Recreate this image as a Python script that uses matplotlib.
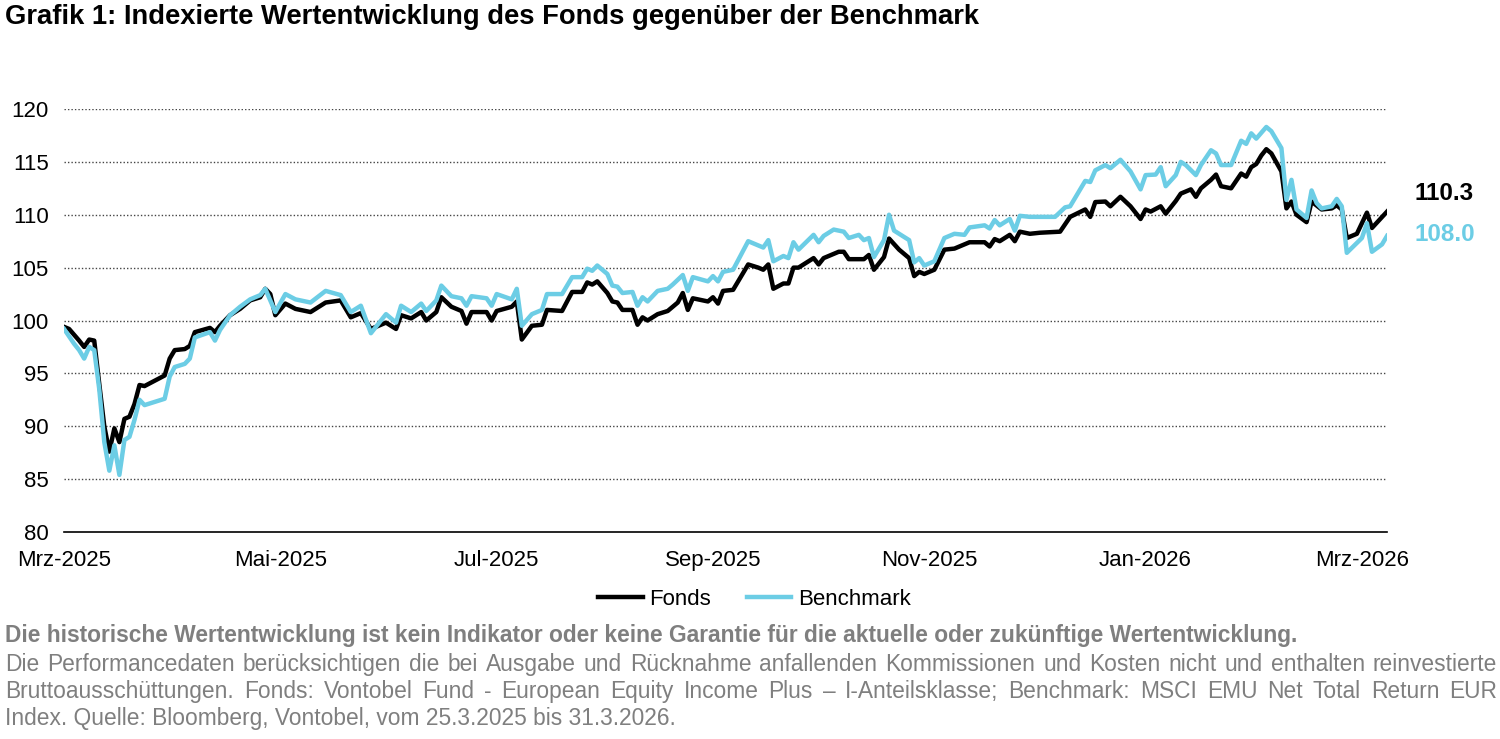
import numpy as np
import pandas as pd
from matplotlib import pyplot as plt

plt.rcParams['font.family'] = ['Liberation Sans', 'DejaVu Sans']

# Handelstage 25.3.2025 - 31.3.2026
feiertage = ['2025-12-25', '2026-01-01']
tage = pd.bdate_range('2025-03-25', '2026-03-31')
tage = tage[~tage.isin(pd.to_datetime(feiertage))]

monate = ['Jan', 'Feb', 'Mrz', 'Apr', 'Mai', 'Jun', 'Jul', 'Aug', 'Sep', 'Okt', 'Nov', 'Dez']
tick_abstand = 43

# Fonds (Handelstag-Nr., Indexwert)
fonds_tag = [0, 1, 3, 4, 5, 6, 7, 8, 9, 10,
             11, 12, 13, 14, 15, 16, 18, 20, 21, 22,
             24, 25, 26, 29, 30, 31, 33, 35, 37, 39,
             40, 41, 42, 44, 46, 49, 52, 55, 57, 59,
             61, 64, 66, 67, 69, 71, 72, 74, 75, 77,
             79, 80, 81, 84, 85, 86, 89, 90, 91, 93,
             95, 96, 99, 101, 103, 104, 105, 106, 108, 109,
             110, 111, 113, 114, 115, 116, 118, 120, 122, 123,
             124, 125, 128, 129, 130, 131, 133, 136, 138, 139,
             140, 141, 143, 144, 145, 146, 149, 150, 151, 154,
             155, 156, 159, 160, 161, 163, 164, 166, 168, 169,
             170, 171, 173, 175, 177, 178, 180, 183, 184, 185,
             186, 188, 189, 190, 192, 194, 198, 199, 200, 203,
             204, 205, 207, 208, 210, 212, 214, 215, 216, 218,
             219, 221, 222, 224, 225, 226, 228, 229, 230, 232,
             234, 235, 236, 237, 238, 239, 240, 242, 243, 244,
             245, 247, 248, 250, 252, 253, 254, 255, 257, 259,
             260, 263]
fonds_wert = [99.4, 99.2, 98.1, 97.5, 98.2, 98.1, 94.0, 90.0, 87.6, 89.8,
              88.5, 90.7, 90.9, 92.1, 93.9, 93.8, 94.3, 94.8, 96.4, 97.2,
              97.3, 97.6, 98.9, 99.3, 98.9, 99.5, 100.5, 101.1, 101.9, 102.2,
              103.0, 102.5, 100.5, 101.6, 101.1, 100.8, 101.7, 101.9, 100.3, 100.7,
              99.2, 99.8, 99.2, 100.5, 100.2, 100.8, 100.0, 100.8, 102.2, 101.3,
              100.9, 99.7, 100.8, 100.8, 100.0, 100.9, 101.3, 101.8, 98.2, 99.5,
              99.6, 101.0, 100.9, 102.7, 102.7, 103.6, 103.4, 103.7, 102.6, 101.8,
              101.7, 101.0, 101.0, 99.6, 100.3, 100.0, 100.6, 100.9, 101.7, 102.6,
              101.0, 102.1, 101.8, 102.2, 101.6, 102.8, 102.9, 105.3, 105.0, 104.8,
              105.3, 103.0, 103.5, 103.5, 105.0, 105.0, 105.9, 105.3, 105.9, 106.5,
              106.5, 105.8, 105.8, 106.2, 104.8, 106.0, 107.75, 106.7, 105.9, 104.2,
              104.6, 104.4, 104.8, 106.7, 106.8, 107.0, 107.4, 107.4, 107.0, 107.7,
              107.5, 108.1, 107.5, 108.4, 108.2, 108.3, 108.4, 109.1, 109.8, 110.5,
              109.8, 111.2, 111.25, 110.8, 111.7, 110.8, 109.6, 110.5, 110.3, 110.8,
              110.1, 111.3, 112.0, 112.4, 111.7, 112.5, 113.3, 113.8, 112.7, 112.5,
              113.9, 113.6, 114.5, 114.8, 115.6, 116.2, 115.8, 114.1, 110.6, 111.25,
              110.0, 109.3, 111.25, 110.5, 110.6, 110.9, 110.5, 107.8, 108.2, 110.2,
              108.75, 110.3]

# Benchmark (Handelstag-Nr., Indexwert)
bench_tag = [0, 2, 3, 4, 5, 6, 7, 8, 9, 10,
             11, 12, 13, 14, 15, 16, 18, 20, 21, 22,
             24, 25, 26, 29, 30, 31, 33, 35, 37, 39,
             40, 42, 44, 46, 49, 52, 55, 57, 59, 61,
             64, 66, 67, 69, 71, 72, 74, 75, 77, 79,
             80, 81, 84, 85, 86, 89, 90, 91, 93, 95,
             96, 99, 101, 103, 104, 105, 106, 108, 109, 110,
             111, 113, 114, 115, 116, 118, 120, 121, 123, 124,
             125, 128, 129, 130, 131, 133, 136, 139, 140, 141,
             143, 144, 145, 146, 149, 150, 151, 153, 155, 156,
             158, 159, 160, 161, 163, 164, 165, 168, 169, 170,
             171, 173, 175, 177, 179, 180, 183, 184, 185, 186,
             188, 189, 190, 192, 197, 199, 200, 203, 204, 205,
             207, 208, 210, 212, 214, 215, 217, 218, 219, 221,
             222, 223, 225, 226, 228, 229, 230, 232, 234, 235,
             236, 237, 239, 240, 242, 243, 244, 245, 247, 248,
             249, 250, 252, 253, 254, 255, 258, 259, 260, 262,
             263]
bench_wert = [99.2, 97.8, 97.2, 96.4, 97.5, 97.2, 93.5, 88.5, 85.8, 88.2,
              85.4, 88.7, 89.0, 90.6, 92.5, 92.0, 92.3, 92.6, 94.7, 95.6,
              95.9, 96.4, 98.4, 98.9, 98.1, 99.1, 100.5, 101.3, 102.0, 102.4,
              103.0, 100.8, 102.5, 102.0, 101.7, 102.8, 102.4, 100.8, 101.4, 98.8,
              100.6, 99.8, 101.4, 100.8, 101.6, 100.9, 101.9, 103.3, 102.3, 102.1,
              101.4, 102.3, 102.1, 101.4, 102.5, 102.0, 103.0, 99.5, 100.6, 101.0,
              102.5, 102.5, 104.1, 104.1, 104.9, 104.7, 105.2, 104.4, 103.3, 103.2,
              102.6, 102.7, 101.4, 102.2, 101.8, 102.8, 103.0, 103.4, 104.3, 102.8,
              104.1, 103.7, 104.2, 103.7, 104.6, 104.8, 107.5, 106.9, 107.6, 105.6,
              106.1, 105.9, 107.4, 106.7, 108.1, 107.4, 108.0, 108.6, 108.4, 107.8,
              108.1, 107.6, 107.8, 106.0, 107.6, 110.0, 108.5, 107.6, 105.5, 105.9,
              105.2, 105.6, 107.8, 108.2, 108.1, 108.8, 109.0, 108.7, 109.5, 109.0,
              109.6, 108.5, 109.9, 109.8, 109.8, 110.7, 110.8, 113.2, 113.1, 114.2,
              114.7, 114.4, 115.2, 114.1, 112.4, 113.75, 113.8, 114.5, 112.7, 113.75,
              115.0, 114.7, 113.75, 114.7, 116.1, 115.8, 114.7, 114.7, 117.0, 116.7,
              117.7, 117.2, 118.3, 117.9, 116.3, 111.4, 113.3, 110.5, 109.7, 112.3,
              111.1, 110.6, 110.8, 111.5, 110.8, 106.4, 107.8, 109.2, 106.5, 107.2,
              108.0]

y_ticks = [80, 85, 90, 95, 100, 105, 110, 115, 120]

titel = 'Grafik 1: Indexierte Wertentwicklung des Fonds gegenüber der Benchmark'
hinweis_fett = ('Die historische Wertentwicklung ist kein Indikator oder keine Garantie '
                'für die aktuelle oder zukünftige Wertentwicklung.')
hinweis_zeilen = [
    'Die Performancedaten berücksichtigen die bei Ausgabe und Rücknahme anfallenden '
    'Kommissionen und Kosten nicht und enthalten reinvestierte',
    'Bruttoausschüttungen. Fonds: Vontobel Fund - European Equity Income Plus – '
    'I-Anteilsklasse; Benchmark: MSCI EMU Net Total Return EUR',
    'Index. Quelle: Bloomberg, Vontobel, vom 25.3.2025 bis 31.3.2026.',
]

schwarz = '#000000'
blau = '#6ccde5'
grau = '#7f7f7f'
fs = 16
fs_fuss = 16.4


def blocksatz(fig, zeile, y, x0, x1, renderer, **kw):
    """Zeile im Blocksatz zwischen x0 und x1 (Figure-Koordinaten) setzen"""
    woerter = zeile.split(' ')
    texte = [fig.text(0, y, w, **kw) for w in woerter]
    fig_w = fig.bbox.width
    breiten = [t.get_window_extent(renderer).width / fig_w for t in texte]
    luecke = (x1 - x0 - sum(breiten)) / (len(woerter) - 1)
    x = x0
    for t, b in zip(texte, breiten):
        t.set_x(x)
        x += b + luecke


fig = plt.figure(figsize=(15, 7.39), dpi=100)
ax = fig.add_axes([0.0427, 0.2801, 0.882, 0.5724])

x_fonds = [tage.get_loc(tage[i]) for i in fonds_tag]
x_bench = [tage.get_loc(tage[i]) for i in bench_tag]
ax.plot(x_fonds, fonds_wert, color=schwarz, lw=3.2, solid_joinstyle='round', label='Fonds')
ax.plot(x_bench, bench_wert, color=blau, lw=3.2, solid_joinstyle='round', label='Benchmark')

ax.set_xlim(0, len(tage) - 1)
ax.set_ylim(80, 120)
ax.set_yticks(y_ticks)
pos = list(range(0, len(tage), tick_abstand))
ax.set_xticks(pos)
ax.set_xticklabels([f'{monate[tage[p].month - 1]}-{tage[p].year}' for p in pos])
ax.tick_params(axis='both', length=0, labelsize=fs)
ax.tick_params(axis='x', pad=13)
ax.tick_params(axis='y', pad=11)

for s in ['top', 'right', 'left']:
    ax.spines[s].set_visible(False)
ax.spines['bottom'].set_color('black')
ax.spines['bottom'].set_linewidth(1.2)
for v in y_ticks[1:]:
    ax.axhline(v, color='#444444', lw=1.0, linestyle=(0, (1, 1.5)), zorder=0)

# Endwerte
ax.annotate(f'{fonds_wert[-1]:.1f}', (x_fonds[-1], fonds_wert[-1]), xytext=(20, 13),
            textcoords='offset points', va='center', ha='left',
            fontsize=17.5, fontweight='bold', color=schwarz, annotation_clip=False)
ax.annotate(f'{bench_wert[-1]:.1f}', (x_bench[-1], bench_wert[-1]), xytext=(20, 1),
            textcoords='offset points', va='center', ha='left',
            fontsize=17.5, fontweight='bold', color=blau, annotation_clip=False)

fig.legend(loc='center', bbox_to_anchor=(0.503, 0.189), ncol=2, frameon=False,
           fontsize=fs, handlelength=2.0, handletextpad=0.3, columnspacing=1.6)

fig.text(0.0035, 0.977, titel, fontsize=19.7, fontweight='bold', va='center', ha='left')

# Fusszeilen (Grundlinien)
renderer = fig.canvas.get_renderer()
fig.text(0.0035, 1 - 642 / 739, hinweis_fett, fontsize=fs_fuss, fontweight='bold',
         color=grau, va='baseline', ha='left')
zeilen_y = [1 - 671 / 739, 1 - 698 / 739, 1 - 725 / 739]
for zeile, y in zip(hinweis_zeilen[:-1], zeilen_y[:-1]):
    blocksatz(fig, zeile, y, 0.0035, 0.998, renderer, fontsize=fs_fuss, color=grau,
              va='baseline', ha='left')
fig.text(0.0035, zeilen_y[-1], hinweis_zeilen[-1], fontsize=fs_fuss, color=grau,
         va='baseline', ha='left')

fig.savefig('out.png', dpi=100)
